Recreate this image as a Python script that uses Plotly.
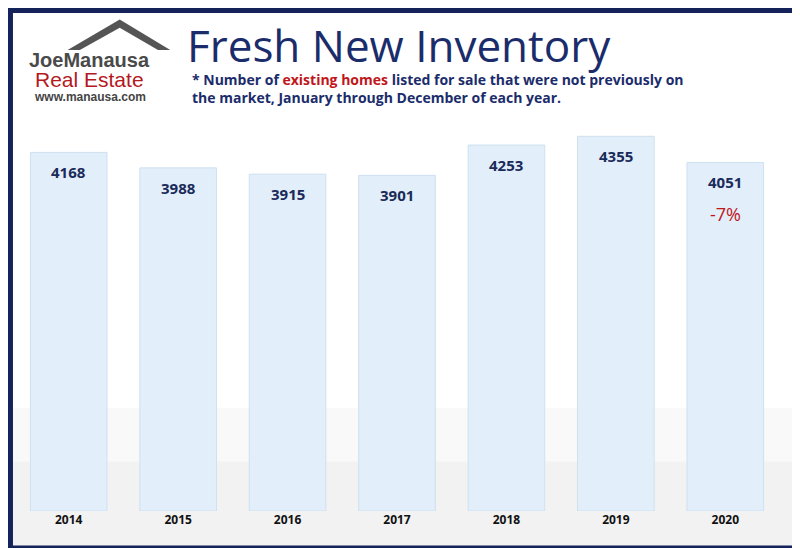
import plotly.graph_objects as go

years = ["2014", "2015", "2016", "2017", "2018", "2019", "2020"]
values = [4168, 3988, 3915, 3901, 4253, 4355, 4051]
change_label = "-7%"

W, H = 800, 548
xs = list(range(len(years)))
fig = go.Figure()
fig.add_trace(go.Bar(
    x=xs, y=values, width=0.7,
    marker=dict(color="#e2eef9", line=dict(color="#cfe0f0", width=1)),
    hoverinfo="skip",
))
for x, v in zip(xs, values):
    fig.add_annotation(x=x, y=v, text="<b>%d</b>" % v, showarrow=False, yanchor="top", yshift=-8,
                       font=dict(family="Open Sans", size=15, color="#1a2a5a"))
fig.add_annotation(x=xs[-1], y=values[-1], text=change_label, showarrow=False, yanchor="top", yshift=-38,
                   font=dict(family="Open Sans", size=18, color="#c0161b"))

fig.update_layout(
    width=W, height=H, margin=dict(l=6, r=28, t=90, b=45),
    paper_bgcolor="white", plot_bgcolor="rgba(0,0,0,0)", showlegend=False,
    xaxis=dict(range=[-0.5, 6.5], showgrid=False, showline=False, zeroline=False,
               tickfont=dict(family="Open Sans", size=12, color="#111"),
               tickmode="array", tickvals=xs, ticktext=["<b>%s</b>" % y for y in years]),
    yaxis=dict(range=[0, 4800], visible=False),
    shapes=[
        dict(type="rect", xref="paper", yref="paper", x0=-0.1, y0=-0.2, x1=1.1, y1=0.25,
             line=dict(width=0), fillcolor="rgba(200,200,200,0.10)", layer="below"),
        dict(type="rect", xref="paper", yref="paper", x0=-0.1, y0=-0.2, x1=1.1, y1=0.12,
             line=dict(width=0), fillcolor="rgba(200,200,200,0.12)", layer="below"),
        dict(type="rect", xref="paper", yref="paper", x0=-0.0046, y0=-0.0896, x1=1.0235, y1=1.2119,
             line=dict(color="#14235a", width=5), fillcolor="rgba(0,0,0,0)"),
        dict(type="path", xref="paper", yref="paper",
             path="M 0.07 1.116 L 0.138 1.19 L 0.204 1.116 L 0.188 1.116 L 0.138 1.17 L 0.086 1.116 Z",
             fillcolor="#555", line=dict(width=0)),
    ],
)
fig.add_annotation(xref="paper", yref="paper", x=0.223, y=1.128, xanchor="left", yanchor="middle",
                   text="Fresh New Inventory", showarrow=False,
                   font=dict(family="Open Sans", size=44, color="#1b2c6b"))
fig.add_annotation(xref="paper", yref="paper", x=0.23, y=1.024, xanchor="left", yanchor="middle", align="left",
                   text="<b>* Number of <span style='color:#c0161b'>existing homes</span> listed for sale that were not previously on<br>the market, January through December of each year.</b>",
                   showarrow=False, font=dict(family="Open Sans", size=14, color="#1b2c6b"))
fig.add_annotation(xref="paper", yref="paper", x=0.099, y=1.092, xanchor="center", yanchor="middle",
                   text="<b>JoeManausa</b>", showarrow=False,
                   font=dict(family="Liberation Sans", size=20, color="#4a4a4a"))
fig.add_annotation(xref="paper", yref="paper", x=0.099, y=1.044, xanchor="center", yanchor="middle",
                   text="Real Estate", showarrow=False,
                   font=dict(family="Liberation Sans", size=21, color="#b3191e"))
fig.add_annotation(xref="paper", yref="paper", x=0.099, y=1.002, xanchor="center", yanchor="middle",
                   text="<b>www.manausa.com</b>", showarrow=False,
                   font=dict(family="Liberation Sans", size=12, color="#444"))
fig.write_html("out.html")
